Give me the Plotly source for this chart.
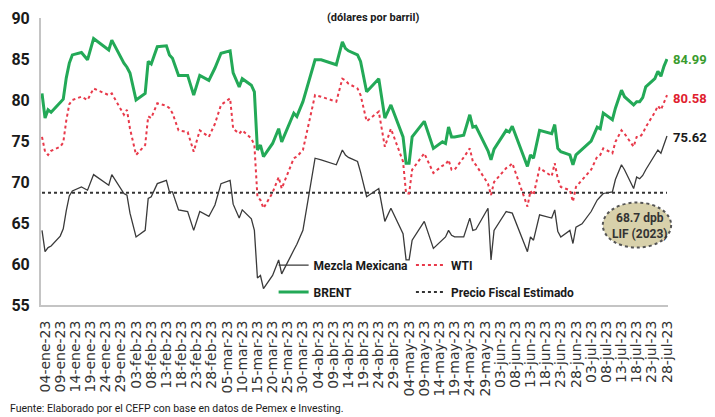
import plotly.graph_objects as go
import pandas as pd

fechas = [
    "2023-01-03", "2023-01-04", "2023-01-05", "2023-01-06", "2023-01-09", "2023-01-10",
    "2023-01-11", "2023-01-12", "2023-01-13", "2023-01-16", "2023-01-18", "2023-01-20",
    "2023-01-25", "2023-01-26", "2023-01-30", "2023-01-31", "2023-02-01", "2023-02-02",
    "2023-02-03", "2023-02-06", "2023-02-07", "2023-02-08", "2023-02-10", "2023-02-13",
    "2023-02-14", "2023-02-15", "2023-02-17", "2023-02-20", "2023-02-22", "2023-02-24",
    "2023-02-27", "2023-03-01", "2023-03-03", "2023-03-06", "2023-03-07", "2023-03-09",
    "2023-03-10", "2023-03-13", "2023-03-14", "2023-03-15", "2023-03-16", "2023-03-17",
    "2023-03-20", "2023-03-22", "2023-03-23", "2023-03-27", "2023-03-28", "2023-03-30",
    "2023-04-03", "2023-04-05", "2023-04-10", "2023-04-12", "2023-04-13", "2023-04-14",
    "2023-04-17", "2023-04-18", "2023-04-20", "2023-04-24", "2023-04-26", "2023-04-28",
    "2023-05-02", "2023-05-03", "2023-05-04", "2023-05-05", "2023-05-09", "2023-05-12",
    "2023-05-15", "2023-05-16", "2023-05-17", "2023-05-18", "2023-05-19", "2023-05-22",
    "2023-05-24", "2023-05-25", "2023-05-26", "2023-05-30", "2023-05-31", "2023-06-01",
    "2023-06-05", "2023-06-06", "2023-06-07", "2023-06-12", "2023-06-13", "2023-06-14",
    "2023-06-16", "2023-06-20", "2023-06-21", "2023-06-22", "2023-06-23", "2023-06-26",
    "2023-06-27", "2023-06-28", "2023-06-30", "2023-07-03", "2023-07-05", "2023-07-06",
    "2023-07-07", "2023-07-10", "2023-07-11", "2023-07-13", "2023-07-14", "2023-07-17",
    "2023-07-18", "2023-07-19", "2023-07-20", "2023-07-21", "2023-07-24", "2023-07-25",
    "2023-07-26", "2023-07-27", "2023-07-28",
]

brent = [
    80.8, 77.8, 78.8, 78.5, 79.7, 80.1,
    82.7, 84.5, 85.5, 85.8, 84.9, 87.5,
    86.1, 87.3, 84.5, 84.0, 83.3, 81.5,
    80.0, 80.8, 84.7, 84.4, 86.5, 86.6,
    85.5, 85.1, 83.0, 83.0, 80.6, 83.0,
    82.4, 83.9, 85.7, 86.0, 83.3, 81.6,
    82.6, 81.8, 81.0, 73.9, 74.5, 73.1,
    74.7, 76.5, 74.9, 78.4, 78.0, 79.8,
    84.9, 84.9, 84.3, 87.1, 86.3, 86.0,
    85.5, 84.7, 81.0, 82.6, 77.8, 79.4,
    75.5, 72.3, 72.3, 75.5, 77.4, 74.1,
    74.9, 74.7, 76.7, 75.5, 75.5, 75.7,
    78.2, 76.7, 76.8, 73.8, 72.7, 74.0,
    76.3, 76.1, 76.8, 71.9, 73.3, 72.9,
    76.3, 75.9, 77.0, 74.1, 73.7, 73.3,
    72.1, 73.3, 74.0, 75.0, 76.7, 76.5,
    78.4, 77.6, 79.0, 81.2, 80.4, 79.4,
    79.8, 79.8, 80.3, 81.6, 82.6, 83.5,
    82.9, 84.1, 84.99,
]

wti = [
    75.5, 73.7, 73.3, 73.8, 74.3, 74.8,
    77.5, 79.5, 80.0, 80.4, 80.0, 81.4,
    80.6, 80.8, 78.2, 78.8, 76.5, 75.0,
    73.3, 74.5, 78.0, 77.8, 79.6, 79.3,
    79.0, 78.4, 76.3, 76.1, 73.7, 76.3,
    75.5, 77.1, 79.4, 80.2, 76.5, 75.9,
    76.3, 75.3, 74.5, 68.2, 67.8, 66.8,
    68.7, 70.6, 69.2, 72.9, 73.1, 73.9,
    80.6, 80.4, 79.8, 82.6, 82.4, 82.0,
    81.4, 80.6, 77.4, 78.6, 74.3, 76.5,
    72.5, 68.6, 68.6, 71.5, 73.5, 71.1,
    72.0, 72.1, 72.7, 71.5, 71.5, 73.0,
    74.1, 72.5, 72.1, 69.8, 68.4, 70.0,
    71.7, 71.9, 72.3, 67.0, 68.9, 68.4,
    71.7, 70.7, 72.3, 70.4, 69.4, 69.0,
    67.6, 69.4, 70.2, 71.5, 73.1, 73.3,
    74.1, 73.5, 74.9, 76.3, 75.9, 74.3,
    75.5, 75.5, 75.9, 76.7, 78.5, 79.3,
    78.8, 79.6, 80.58,
]

mezcla = [
    64.1, 61.5, 62.0, 62.2, 63.4, 64.3,
    66.5, 68.3, 68.9, 69.4, 69.0, 70.9,
    69.6, 70.9, 68.6, 68.4, 66.2, 64.8,
    63.3, 64.1, 68.0, 68.2, 69.8, 70.2,
    68.8, 68.8, 66.6, 66.4, 64.1, 66.4,
    65.8, 67.2, 69.8, 70.2, 67.3, 65.6,
    66.6, 65.5, 64.1, 58.3, 58.6, 57.0,
    58.6, 60.5, 58.8, 61.7, 62.4, 64.1,
    72.9, 72.7, 72.1, 73.9, 73.3, 73.0,
    72.5, 71.2, 68.2, 69.2, 65.2, 66.8,
    63.7, 60.5, 60.5, 62.9, 65.2, 61.9,
    63.0, 63.3, 64.1, 63.5, 63.3, 63.3,
    65.6, 64.1, 64.2, 66.8, 60.5, 64.1,
    66.4, 66.3, 66.2, 61.5, 63.3, 62.9,
    66.0, 65.6, 66.6, 64.0, 63.3, 64.1,
    62.5, 64.5, 64.9, 66.4, 67.8, 68.2,
    68.6, 68.8, 70.3, 72.1, 71.5, 69.2,
    70.6, 70.4, 70.8, 71.5, 73.2, 73.9,
    73.5, 74.6, 75.62,
]

precio_fiscal = 68.7
nombres = ["Mezcla Mexicana", "WTI", "BRENT", "Precio Fiscal Estimado"]
meses = ["ene", "feb", "mar", "abr", "may", "jun", "jul", "ago", "sep", "oct", "nov", "dic"]

tick_fechas = pd.date_range("2023-01-04", "2023-07-28", freq="5D")
tick_texto = [f"{d.day:02d}-{meses[d.month - 1]}-{d.strftime('%y')}" for d in tick_fechas]

FONT = "Roboto, Liberation Sans, sans-serif"
C_BRENT = "#23a957"
C_WTI = "#e8394a"
C_MEZ = "#3a3a3a"

fig = go.Figure()
fig.add_trace(go.Scatter(x=[fechas[0], fechas[-1]], y=[precio_fiscal, precio_fiscal],
                         mode="lines", name=nombres[3], legend="legend4",
                         line=dict(color="#333333", width=2, dash="dot")))
fig.add_trace(go.Scatter(x=fechas, y=mezcla, mode="lines", name=nombres[0], legend="legend",
                         line=dict(color=C_MEZ, width=1.3)))
fig.add_trace(go.Scatter(x=fechas, y=wti, mode="lines", name=nombres[1], legend="legend2",
                         line=dict(color=C_WTI, width=2, dash="dot")))
fig.add_trace(go.Scatter(x=fechas, y=brent, mode="lines", name=nombres[2], legend="legend3",
                         line=dict(color=C_BRENT, width=3)))

leg_font = dict(family=FONT, size=12, color="#1a1a1a", weight="bold")
def leg(x, y):
    return dict(x=x, y=y, xanchor="left", yanchor="middle", font=leg_font,
                bgcolor="rgba(0,0,0,0)", itemwidth=30)

ultimos = [(brent[-1], "#3a9c2e", 0), (wti[-1], "#e0202e", -3), (mezcla[-1], "#1a1a1a", -2)]
annotations = []
for val, col, ys in ultimos:
    annotations.append(dict(x=fechas[-1], y=val, text=f"{val:.2f}", showarrow=False,
                            xanchor="left", yanchor="middle", xshift=4, yshift=ys,
                            font=dict(family=FONT, size=13, color=col, weight="bold")))
annotations.append(dict(x=0.53, y=1.003, xref="paper", yref="paper",
                        text="(dólares por barril)", showarrow=False,
                        xanchor="center", yanchor="middle",
                        font=dict(family=FONT, size=11, color="#1a1a1a", weight="bold")))
annotations.append(dict(x=0.955, y=0.275, xref="paper", yref="paper",
                        text="68.7 dpb<br>LIF (2023)", showarrow=False,
                        xanchor="center", yanchor="middle",
                        font=dict(family=FONT, size=12, color="#333333", weight="bold")))
annotations.append(dict(x=-0.0525, y=-0.362, xref="paper", yref="paper",
                        text="Fuente: Elaborado por el CEFP con base en datos de Pemex e Investing.",
                        showarrow=False, xanchor="left", yanchor="middle",
                        font=dict(family=FONT, size=10.5, color="#1a1a1a")))

# the page body carries an 8px default margin, so the layout is offset by -8px
fig.update_layout(
    width=715, height=417,
    margin=dict(l=33, r=55, t=10, b=120, autoexpand=False),
    paper_bgcolor="white", plot_bgcolor="white",
    showlegend=True,
    legend=leg(0.371, 0.139),
    legend2=leg(0.590, 0.139),
    legend3=leg(0.371, 0.045),
    legend4=leg(0.590, 0.045),
    annotations=annotations,
    shapes=[dict(type="circle", xref="paper", yref="paper",
                 x0=0.896, x1=1.005, y0=0.2, y1=0.357,
                 fillcolor="#d8d1ab", line=dict(color="#555555", width=2, dash="dot"),
                 layer="above")],
    xaxis=dict(type="date", range=["2023-01-02 16:00", "2023-07-28 08:00"],
               tickmode="array", tickvals=tick_fechas, ticktext=tick_texto,
               tickangle=-90, ticks="", showgrid=False, zeroline=False,
               showline=True, linecolor="#c4c4c4", linewidth=2,
               ticklabelstandoff=8, automargin=False,
               tickfont=dict(family="DejaVu Sans", size=14, color="#333333")),
    yaxis=dict(range=[55, 90], dtick=5, tick0=55, ticks="", showgrid=False, zeroline=False,
               showline=True, linecolor="#c4c4c4", linewidth=2, ticklabelstandoff=6,
               automargin=False,
               tickfont=dict(family=FONT, size=16, color="#1a1a1a", weight="bold")),
)

fig.write_html("out.html")
